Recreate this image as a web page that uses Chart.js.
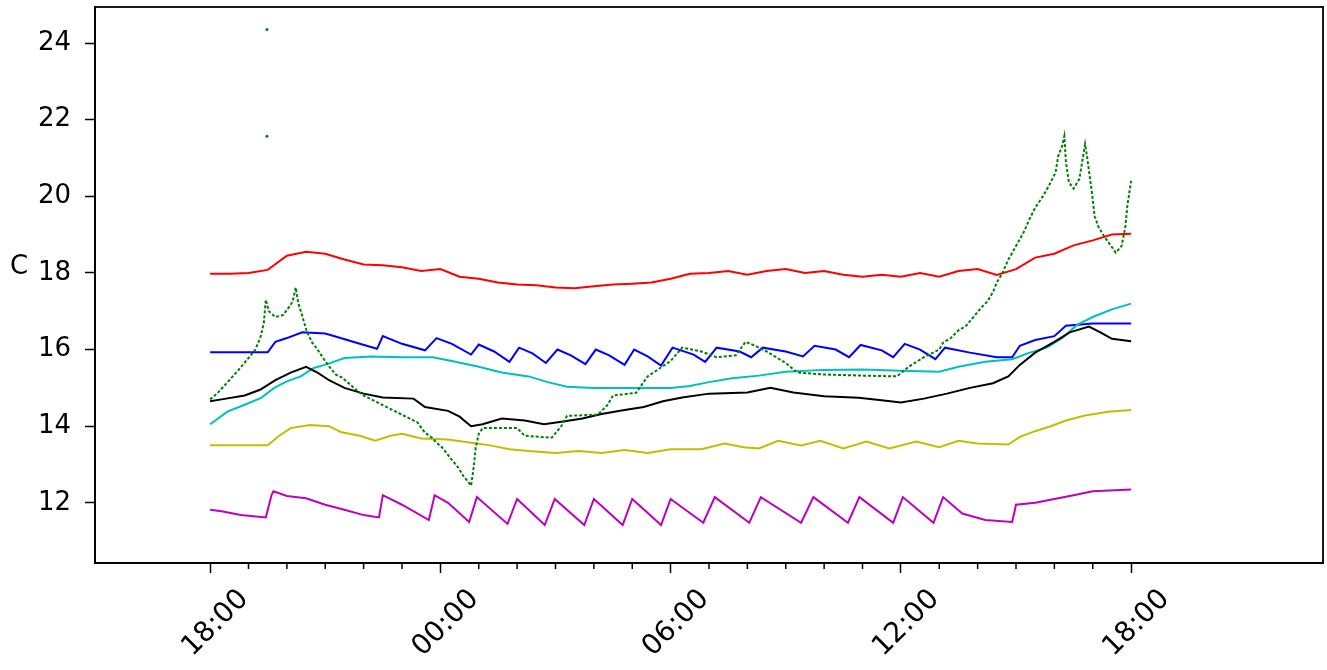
<!DOCTYPE html>
<html>
<head>
<meta charset="utf-8">
<script src="https://cdn.jsdelivr.net/npm/chart.js@4.4.1/dist/chart.umd.min.js"></script>
<style>
  html, body { margin: 0; padding: 0; background: #fff; }
</style>
</head>
<body>
<canvas id="chart" width="1327" height="670"></canvas>
<script>
// x values are hours after 18:00 on the first day
var tickHours = [0, 6, 12, 18, 24];
var tickLabels = ['18:00', '00:00', '06:00', '12:00', '18:00'];
var yTicks = [12, 14, 16, 18, 20, 22, 24];

var redHours = [0,0.5,1,1.5,2,2.5,3,3.5,4,4.5,5,5.5,6,6.5,7,7.5,8,8.5,9,9.5,10,10.5,11,11.5,12,
    12.5,13,13.5,14,14.5,15,15.5,16,16.5,17,17.5,18,18.5,19,19.5,20,20.5,21,21.5,22,22.5,23,23.5,24];
var redTemps = [17.98,17.98,18.0,18.08,18.45,18.55,18.5,18.35,18.22,18.2,18.15,18.05,18.1,17.9,17.85,
    17.75,17.7,17.68,17.62,17.6,17.65,17.7,17.72,17.75,17.85,17.98,18.0,18.05,17.95,18.05,18.1,18.0,
    18.05,17.95,17.9,17.95,17.9,18.0,17.9,18.05,18.1,17.95,18.1,18.4,18.5,18.72,18.85,19.0,19.02];

var blueHours = [0,1.5,1.7,2.0,2.4,3.0,3.4,3.9,4.35,4.5,5.0,5.6,5.9,6.3,6.8,7.0,7.4,7.8,8.05,8.4,
    8.75,9.05,9.4,9.78,10.05,10.4,10.8,11.05,11.4,11.75,12.05,12.6,12.9,13.2,13.8,14.1,14.4,15.0,
    15.45,15.75,16.3,16.65,16.95,17.5,17.8,18.1,18.5,18.9,19.15,19.8,20.5,20.9,21.1,21.5,22.0,22.3,23.0,24.0];
var blueTemps = [15.93,15.93,16.2,16.3,16.45,16.42,16.3,16.15,16.02,16.35,16.15,15.98,16.3,16.15,15.87,
    16.13,15.95,15.68,16.05,15.9,15.65,16.0,15.85,15.62,16.0,15.85,15.6,16.0,15.82,15.58,16.05,15.87,
    15.68,16.05,15.95,15.8,16.05,15.95,15.82,16.1,16.0,15.8,16.12,15.98,15.8,16.15,16.0,15.75,16.05,
    15.92,15.8,15.8,16.1,16.25,16.35,16.62,16.68,16.68];

var cyanHours = [0,0.45,0.9,1.33,1.67,2.0,2.36,2.7,3.05,3.5,4.2,5.0,5.8,6.3,7.0,7.6,8.3,8.8,9.3,10.0,
    11.0,12.0,12.5,13.0,13.6,14.3,15.0,16.0,17.0,18.0,19.0,19.5,20.2,20.9,21.3,21.8,22.2,22.6,23.0,23.5,24.0];
var cyanTemps = [14.05,14.38,14.56,14.74,15.0,15.17,15.3,15.52,15.62,15.78,15.82,15.8,15.8,15.7,15.55,
    15.4,15.3,15.15,15.03,15.0,15.0,15.0,15.05,15.15,15.25,15.32,15.42,15.47,15.48,15.45,15.42,15.55,
    15.68,15.75,15.9,16.05,16.3,16.65,16.85,17.05,17.2];

var blackHours = [0,0.3,0.9,1.3,1.7,2.1,2.5,2.8,3.1,3.5,4.0,4.5,5.3,5.6,6.2,6.5,6.8,7.1,7.6,8.2,8.7,
    9.2,9.7,10.2,10.8,11.3,11.8,12.3,13.0,14.0,14.6,15.2,16.0,16.9,17.5,18.0,18.6,19.2,19.8,20.4,20.8,
    21.1,21.5,22.0,22.4,22.9,23.2,23.5,24.0];
var blackTemps = [14.65,14.7,14.8,14.95,15.2,15.4,15.55,15.4,15.2,15.0,14.85,14.75,14.72,14.5,14.4,
    14.25,14.0,14.05,14.2,14.15,14.05,14.12,14.2,14.32,14.42,14.5,14.65,14.75,14.85,14.88,15.0,14.88,
    14.78,14.74,14.68,14.62,14.72,14.85,15.0,15.12,15.3,15.6,15.92,16.2,16.45,16.6,16.45,16.28,16.22];

var yellowHours = [0,1.5,1.8,2.1,2.6,3.1,3.4,3.9,4.3,4.7,5.0,5.5,6.2,6.8,7.3,7.8,8.3,9.0,9.6,10.2,
    10.8,11.4,12.0,12.8,13.4,13.9,14.3,14.8,15.4,15.9,16.5,17.1,17.7,18.4,19.0,19.5,20.0,20.8,21.1,
    21.5,21.9,22.3,22.8,23.4,24.0];
var yellowTemps = [13.5,13.5,13.75,13.95,14.03,14.0,13.85,13.75,13.62,13.75,13.8,13.68,13.65,13.57,
    13.5,13.4,13.35,13.3,13.35,13.3,13.38,13.3,13.4,13.4,13.55,13.45,13.42,13.62,13.5,13.62,13.42,
    13.6,13.42,13.6,13.45,13.62,13.55,13.52,13.72,13.87,14.0,14.15,14.28,14.38,14.42];

var magentaHours = [0,0.3,0.8,1.45,1.6,1.65,2.0,2.5,3.0,3.5,4.0,4.4,4.5,5.0,5.7,5.85,6.2,6.75,6.95,
    7.75,8.0,8.72,8.98,9.75,10.0,10.75,11.0,11.75,12.0,12.85,13.15,14.05,14.35,15.4,15.72,16.62,16.92,
    17.8,18.05,18.85,19.1,19.6,20.2,20.9,21.0,21.5,22.0,22.5,23.0,24.0];
var magentaTemps = [11.82,11.78,11.68,11.62,12.2,12.3,12.18,12.12,11.95,11.82,11.68,11.62,12.2,11.95,
    11.55,12.2,12.0,11.5,12.15,11.45,12.1,11.42,12.1,11.42,12.1,11.42,12.1,11.42,12.1,11.48,12.15,
    11.48,12.15,11.48,12.15,11.48,12.15,11.48,12.15,11.48,12.15,11.72,11.55,11.5,11.95,12.0,12.1,
    12.2,12.3,12.35];

var greenHours = [0,0.2,0.5,0.75,1.0,1.18,1.32,1.4,1.45,1.53,1.7,1.9,2.05,2.15,2.23,2.3,2.38,2.45,
    2.53,2.66,2.8,2.97,3.1,3.27,3.44,3.7,3.96,4.2,4.5,4.8,5.1,5.4,5.6,5.78,5.9,6.05,6.3,6.45,6.6,6.8,
    6.87,6.92,7.0,7.1,8.0,8.2,8.9,9.15,9.3,10.1,10.35,10.5,11.1,11.4,11.7,12.0,12.3,12.8,13.2,13.7,
    13.95,14.2,14.5,15.0,15.3,16.0,17.0,17.9,18.2,18.6,19.0,19.1,19.3,19.5,19.7,19.95,20.1,20.25,20.4,
    20.5,20.65,20.8,21.0,21.2,21.35,21.5,21.7,21.85,22.03,22.1,22.2,22.26,22.3,22.38,22.5,22.65,22.75,
    22.8,22.85,22.93,23.0,23.05,23.15,23.3,23.48,23.6,23.75,23.85,23.9,24.0];
var greenTemps = [14.7,14.87,15.2,15.48,15.78,16.0,16.35,16.7,17.3,17.0,16.85,16.9,17.1,17.25,17.62,
    17.2,16.95,16.7,16.45,16.18,16.0,15.74,15.56,15.35,15.27,15.04,14.82,14.7,14.55,14.4,14.25,14.1,
    13.83,13.7,13.57,13.44,13.12,12.94,12.7,12.45,12.94,13.44,13.8,13.95,13.95,13.75,13.7,14.0,14.27,
    14.3,14.55,14.8,14.87,15.3,15.5,15.7,16.05,15.95,15.8,15.85,16.2,16.1,15.95,15.65,15.4,15.35,15.32,
    15.3,15.55,15.8,16.0,16.18,16.3,16.5,16.62,16.92,17.1,17.25,17.5,17.75,18.0,18.35,18.7,19.06,19.4,
    19.7,20.0,20.26,20.62,21.05,21.3,21.57,20.9,20.36,20.2,20.45,21.05,21.36,21.05,20.45,19.92,19.48,
    19.2,18.95,18.7,18.53,18.7,19.2,19.74,20.4];

// two stray readings of the green sensor
var greenSpikeHours = [1.48, 1.48];
var greenSpikeTemps = [24.35, 21.57];

function pairs(hours, temps) {
    var out = [];
    for (var i = 0; i < hours.length; i++) out.push({ x: hours[i], y: temps[i] });
    return out;
}

function series(hours, temps, color, order) {
    return {
        data: pairs(hours, temps),
        borderColor: color,
        borderWidth: 2,
        pointRadius: 0,
        fill: false,
        tension: 0,
        order: order
    };
}

var yFont = { family: 'DejaVu Sans', size: 26 };
var xFont = { family: 'DejaVu Sans', size: 28 };

// box round the plot, hourly minor ticks and the unrotated "C" label
var framePlugin = {
    id: 'frame',
    afterDraw: function (chart) {
        var ctx = chart.ctx, a = chart.chartArea, xs = chart.scales.x;
        ctx.save();
        ctx.strokeStyle = '#000';
        ctx.lineWidth = 1.8;
        ctx.strokeRect(a.left, a.top, a.right - a.left, a.bottom - a.top);
        ctx.lineWidth = 1.5;
        for (var h = 1; h < 24; h++) {
            if (h % 6 === 0) continue;
            var px = xs.getPixelForValue(h);
            ctx.beginPath();
            ctx.moveTo(px, a.bottom);
            ctx.lineTo(px, a.bottom + 6);
            ctx.stroke();
        }
        ctx.fillStyle = '#000';
        ctx.font = '26px "DejaVu Sans"';
        ctx.textAlign = 'left';
        ctx.textBaseline = 'middle';
        ctx.fillText('C', 10, 267);
        ctx.restore();
    }
};

var greenLine = series(greenHours, greenTemps, '#008000', 1);
greenLine.borderDash = [3, 2];

var ctx = document.getElementById('chart').getContext('2d');
var chart = new Chart(ctx, {
    type: 'line',
    data: {
        datasets: [
            series(redHours, redTemps, '#ff0000', 7),
            series(blueHours, blueTemps, '#0000ff', 6),
            series(cyanHours, cyanTemps, '#00bfbf', 5),
            series(blackHours, blackTemps, '#000000', 4),
            series(yellowHours, yellowTemps, '#bfbf00', 3),
            series(magentaHours, magentaTemps, '#bf00bf', 2),
            greenLine,
            {
                data: pairs(greenSpikeHours, greenSpikeTemps),
                showLine: false,
                pointRadius: 1.5,
                pointBorderWidth: 0,
                pointBackgroundColor: '#008000',
                order: 0
            }
        ]
    },
    options: {
        responsive: false,
        animation: false,
        devicePixelRatio: 1,
        layout: { padding: { left: 0, right: 2, top: 7, bottom: 0 } },
        plugins: { legend: { display: false }, tooltip: { enabled: false } },
        scales: {
            x: {
                type: 'linear',
                min: -3,
                max: 29,
                afterBuildTicks: function (s) {
                    s.ticks = tickHours.map(function (v) { return { value: v }; });
                },
                afterFit: function (s) {
                    s.height = 107;
                    s.paddingLeft = 0;
                    s.paddingRight = 0;
                },
                ticks: {
                    autoSkip: false,
                    minRotation: 45,
                    maxRotation: 45,
                    font: xFont,
                    color: '#000',
                    padding: 10,
                    labelOffset: 34,
                    callback: function (v) { return tickLabels[tickHours.indexOf(v)]; }
                },
                grid: { drawOnChartArea: false, tickLength: 10, tickColor: '#000', tickWidth: 1.5 },
                border: { display: true, color: '#000', width: 1.8 }
            },
            y: {
                min: 10.43,
                max: 24.94,
                afterBuildTicks: function (s) {
                    s.ticks = yTicks.map(function (v) { return { value: v }; });
                },
                afterFit: function (s) {
                    s.width = 95;
                    s.paddingTop = 0;
                    s.paddingBottom = 0;
                },
                ticks: { autoSkip: false, font: yFont, color: '#000', padding: 14 },
                grid: { drawOnChartArea: false, tickLength: 10, tickColor: '#000', tickWidth: 1.5 },
                border: { display: true, color: '#000', width: 1.8 }
            }
        }
    },
    plugins: [framePlugin]
});
</script>
</body>
</html>
